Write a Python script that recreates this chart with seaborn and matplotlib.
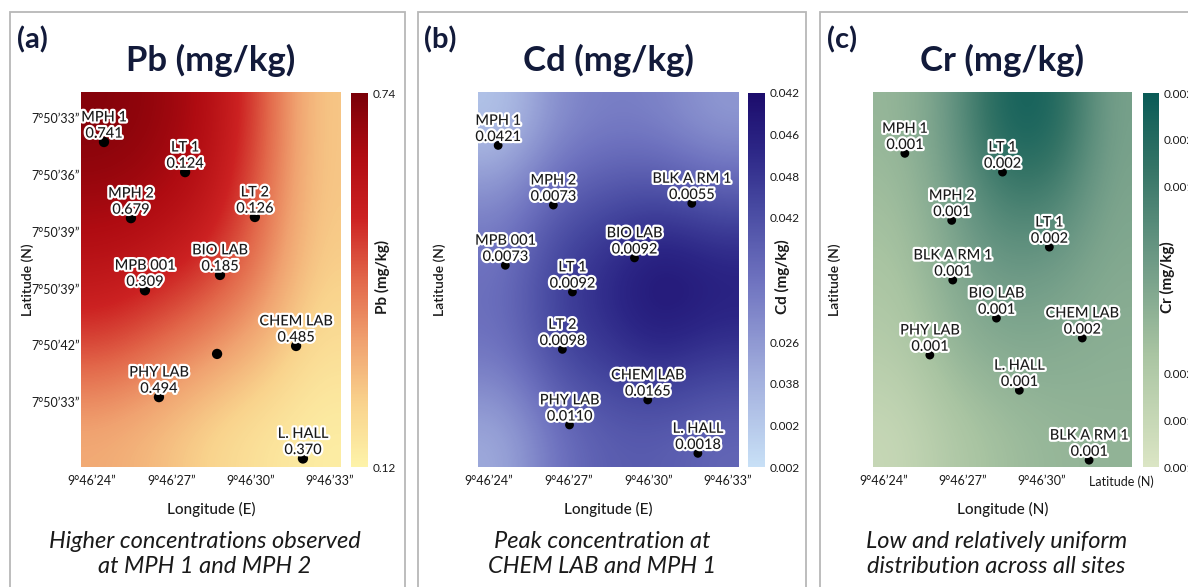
import numpy as np
import pandas as pd
import matplotlib
matplotlib.use("Agg")
import matplotlib.pyplot as plt
import matplotlib.patheffects as pe
from matplotlib.colors import LinearSegmentedColormap
from matplotlib.patches import Rectangle
import seaborn as sns

sns.set_style("white")
plt.rcParams['font.family'] = ['Lato', 'DejaVu Sans']

# ---- Pb ----
pb_sites = ["MPH 1", "LT 1", "MPH 2", "LT 2", "BIO LAB", "MPB 001", "CHEM LAB", None, "PHY LAB", "L. HALL"]
pb_values = [0.741, 0.124, 0.679, 0.126, 0.185, 0.309, 0.485, None, 0.494, 0.370]
pb_lon = [24.45, 27.52, 25.47, 30.16, 28.84, 26.00, 31.72, 28.73, 26.53, 31.98]
pb_lat = [0.42, 0.95, 1.76, 1.74, 2.76, 3.03, 4.01, 4.15, 4.91, 5.99]
pb_field = [[0.721, 0.690, 0.628, 0.461, 0.244],
            [0.666, 0.647, 0.585, 0.430, 0.244],
            [0.585, 0.542, 0.480, 0.380, 0.225],
            [0.461, 0.405, 0.343, 0.275, 0.182],
            [0.306, 0.269, 0.213, 0.170, 0.139]]
pb_cbar_labels = ["0.74", "0.12"]

# ---- Cd ----
cd_sites = ["MPH 1", "MPH 2", "BLK A RM 1", "MPB 001", "BIO LAB", "LT 1", "LT 2", "CHEM LAB", "PHY LAB", "L. HALL"]
cd_values = [0.0421, 0.0073, 0.0055, 0.0073, 0.0092, 0.0092, 0.0098, 0.0165, 0.0110, 0.0018]
cd_lon = [24.34, 26.42, 31.64, 24.61, 29.48, 27.14, 26.76, 29.98, 27.03, 31.87]
cd_lat = [0.48, 1.53, 1.50, 2.59, 2.46, 3.06, 4.07, 4.96, 5.40, 5.90]
cd_field = [[0.0072, 0.0172, 0.0200, 0.0190, 0.0150],
            [0.0188, 0.0264, 0.0296, 0.0310, 0.0282],
            [0.0228, 0.0320, 0.0364, 0.0420, 0.0392],
            [0.0220, 0.0300, 0.0332, 0.0360, 0.0332],
            [0.0120, 0.0220, 0.0260, 0.0260, 0.0240]]
cd_cbar_labels = ["0.042", "0.046", "0.048", "0.042", "", "", "0.026", "0.038", "0.002", "0.002"]

# ---- Cr ----
cr_sites = ["MPH 1", "LT 1", "MPH 2", "LT 1", "BLK A RM 1", "BIO LAB", "CHEM LAB", "PHY LAB", "L. HALL", "BLK A RM 1"]
cr_values = [0.001, 0.002, 0.001, 0.002, 0.001, 0.001, 0.002, 0.001, 0.001, 0.001]
cr_lon = [24.79, 28.50, 26.57, 30.28, 26.61, 28.27, 31.53, 25.74, 29.14, 31.79]
cr_lat = [0.62, 0.95, 1.80, 2.27, 2.85, 3.52, 3.87, 4.17, 4.79, 6.02]
cr_field = [[0.00138, 0.00155, 0.00195, 0.00195, 0.00150],
            [0.00133, 0.00150, 0.00172, 0.00170, 0.00148],
            [0.00128, 0.00145, 0.00155, 0.00152, 0.00145],
            [0.00122, 0.00138, 0.00145, 0.00145, 0.00142],
            [0.00112, 0.00125, 0.00133, 0.00138, 0.00140]]
cr_cbar_labels = ["0.002", "0.002", "0.001", "", "", "", "0.002", "0.001", "0.001"]

lon_labels = ["9°46’24”", "9°46’27”", "9°46’30”", "9°46’33”"]
lon_labels_c = ["9°46’24”", "9°46’27”", "9°46’30”", "Latitude (N)"]
lon_ticks = [24, 27, 30, 33]
lat_labels = ["7°50’33”", "7°50’36”", "7°50’39”", "7°50’39”", "7°50’42”", "7°50’33”"]

cmap_pb = LinearSegmentedColormap.from_list("pb", ["#fdf3a9", "#f9d38d", "#f0a270", "#e2674a", "#cc2222", "#b00c12", "#7a0008"])
cmap_cd = LinearSegmentedColormap.from_list(
    "cd", [(0, "#c8e0f6"), (0.25, "#a0acdc"), (0.5, "#6e72bf"), (0.7, "#4648a0"), (0.85, "#2c2686"), (1, "#1c0c6c")])
cmap_cr = LinearSegmentedColormap.from_list(
    "cr", [(0, "#dbe5c4"), (0.3, "#a9c4a2"), (0.55, "#6e9a86"), (0.8, "#357466"), (1, "#0a5b57")])

W, H = 1188, 587
fig = plt.figure(figsize=(W / 100, H / 100), dpi=100)


def rect(x0, y0, x1, y1):
    return [x0 / W, 1 - y1 / H, (x1 - x0) / W, (y1 - y0) / H]


def ftext(x, y, s, **kw):
    fig.text(x / W, 1 - y / H, s, **kw)


panels = [
    dict(letter="(a)", title="Pb (mg/kg)", sites=pb_sites, vals=pb_values, lon=pb_lon, lat=pb_lat,
         field=pb_field, cmap=cmap_pb, vmin=0.12, vmax=0.74, cbl=pb_cbar_labels, fmt="{:.3f}",
         box=(10, 12, 405), ax=(81, 92, 341, 467), cax=(351, 93, 368, 467), cblab_x=382,
         xlabel="Longitude (E)", xtl=lon_labels, size=55,
         caption="Higher concentrations observed\nat MPH 1 and MPH 2"),
    dict(letter="(b)", title="Cd (mg/kg)", sites=cd_sites, vals=cd_values, lon=cd_lon, lat=cd_lat,
         field=cd_field, cmap=cmap_cd, vmin=0.002, vmax=0.042, cbl=cd_cbar_labels, fmt="{:.4f}",
         box=(418, 12, 806), ax=(478, 92, 739, 467), cax=(748, 93, 765, 467), cblab_x=782,
         xlabel="Longitude (E)", xtl=lon_labels, size=40,
         caption="Peak concentration at\nCHEM LAB and MPH 1"),
    dict(letter="(c)", title="Cr (mg/kg)", sites=cr_sites, vals=cr_values, lon=cr_lon, lat=cr_lat,
         field=cr_field, cmap=cmap_cr, vmin=0.001, vmax=0.002, cbl=cr_cbar_labels, fmt="{:.3f}",
         box=(820, 12, 1200), ax=(873, 92, 1132, 467), cax=(1143, 93, 1159, 467), cblab_x=1167,
         xlabel="Longitude (N)", xtl=lon_labels_c, size=40,
         caption="Low and relatively uniform\ndistribution across all sites"),
]

navy = "#121a3a"
ink = "#1a1a1a"
stroke = [pe.withStroke(linewidth=3.2, foreground="white")]

for i, p in enumerate(panels):
    bx0, by0, bx1 = p["box"]
    fig.add_artist(Rectangle((bx0 / W, -0.1), (bx1 - bx0) / W, 1 - by0 / H + 0.1,
                             transform=fig.transFigure, fill=False, ec="#b8b8b8", lw=1.3))

    ax = fig.add_axes(rect(*p["ax"]))
    ext = (23.58, 33.42, 6.14, -0.46)
    im = ax.imshow(np.array(p["field"]), extent=ext, origin="upper", aspect="auto",
                   interpolation="bicubic", cmap=p["cmap"], vmin=p["vmin"], vmax=p["vmax"])

    df = pd.DataFrame({"lon": p["lon"], "lat": p["lat"]})
    sns.scatterplot(data=df, x="lon", y="lat", ax=ax, color="black", s=p["size"],
                    edgecolor="none", legend=False, zorder=3)
    for name, v, x, y in zip(p["sites"], p["vals"], p["lon"], p["lat"]):
        if name is None:
            continue
        ax.annotate(f"{name}\n{p['fmt'].format(v)}", (x, y), xytext=(0, 1), textcoords="offset points",
                    ha="center", va="bottom", fontsize=10.5, fontweight="medium", color=ink,
                    linespacing=1.2, path_effects=stroke, zorder=4)

    ax.set_xlim(ext[0], ext[1])
    ax.set_ylim(ext[2], ext[3])
    ax.set_xticks(lon_ticks)
    ax.set_xticklabels(p["xtl"], fontsize=9, color=ink)
    if i == 0:
        ax.set_yticks(range(len(lat_labels)))
        ax.set_yticklabels(lat_labels, fontsize=9, color=ink)
    else:
        ax.set_yticks([])
    ax.tick_params(length=0, pad=6)
    ax.tick_params(axis="y", pad=1)
    ax.set_xlabel("")
    ax.set_ylabel("")
    for s in ax.spines.values():
        s.set_visible(False)

    cax = fig.add_axes(rect(*p["cax"]))
    cb = fig.colorbar(im, cax=cax)
    cb.outline.set_visible(False)
    n = len(p["cbl"])
    cb.set_ticks(np.linspace(p["vmin"], p["vmax"], n), labels=p["cbl"][::-1])
    cax.tick_params(length=0, labelsize=8.5, pad=3, labelcolor=ink)
    ftext(p["cblab_x"], 277, p["title"], rotation=90, ha="center", va="center",
          fontsize=11, fontweight="bold", color=ink)

    cx = (p["ax"][0] + p["ax"][2]) / 2
    ftext(bx0 + 22, 40, p["letter"], ha="center", va="center", fontsize=21, fontweight="bold", color=navy)
    ftext(cx, 60, p["title"], ha="center", va="center", fontsize=25, fontweight="bold", color=navy)
    ftext(p["ax"][0] - 53 if i == 0 else p["ax"][0] - 38, 280, "Latitude (N)", rotation=90,
          ha="center", va="center", fontsize=10, fontweight="semibold", color=ink)
    ftext(cx, 509, p["xlabel"], ha="center", va="center", fontsize=11, fontweight="medium", color=ink)
    ftext(cx - 6, 554, p["caption"], ha="center", va="center", fontsize=17, style="italic",
          color=ink, linespacing=1.25)

fig.savefig("out.png", dpi=100)
